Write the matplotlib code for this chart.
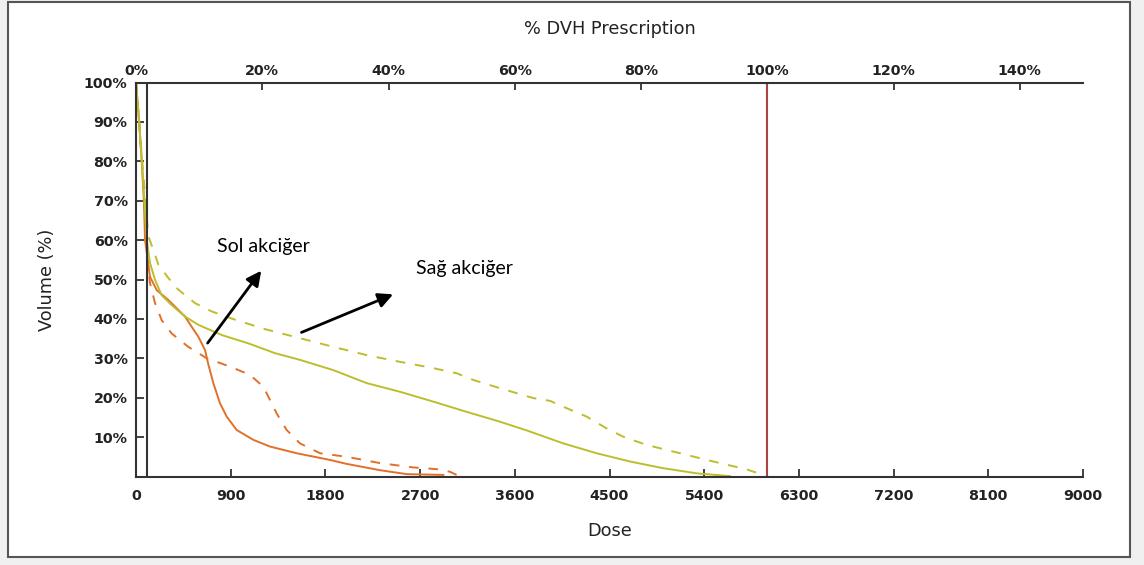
import numpy as np
import matplotlib.pyplot as plt
from matplotlib.patches import Rectangle

sol_dose = [0, 30, 55, 75, 86, 133, 197, 307, 466, 529, 592, 656, 687, 735, 798, 862, 957,
            1115, 1274, 1527, 1844, 2002, 2319, 2573, 2921]
sol_vol = [100, 90, 80, 70, 60, 50.7, 47.3, 44.8, 40.6, 38, 35.5, 32.1, 28.5, 23.7, 18.6, 15.2, 11.8,
           9.3, 7.6, 5.9, 4.2, 3.2, 1.6, 0.6, 0.4]

sol_d_dose = [0, 30, 55, 75, 102, 133, 181, 244, 339, 497, 672, 893, 1083, 1210, 1274, 1337,
              1432, 1559, 1749, 2002, 2319, 2636, 2889, 2984, 3079]
sol_d_vol = [100, 90, 80, 70, 56.6, 49.1, 44, 39.7, 36.3, 32.9, 30, 27.9, 25.8, 22.8, 19.4, 16,
             11.8, 8.4, 5.9, 5, 3.4, 2.3, 1.8, 1.2, 0]

sag_dose = [0, 30, 55, 80, 102, 133, 181, 244, 339, 466, 592, 815, 1067, 1321, 1559, 1875,
            2193, 2509, 2826, 3143, 3460, 3713, 4061, 4378, 4695, 5012, 5329, 5645]
sag_vol = [100, 90, 80, 70, 60, 54.2, 49.9, 46, 43.5, 40.6, 38.5, 35.9, 33.8, 31.3, 29.6, 27,
           23.7, 21.5, 19, 16.4, 13.9, 11.7, 8.4, 5.9, 3.8, 2.1, 0.8, 0.1]

sag_d_dose = [0, 30, 60, 90, 117, 164, 212, 307, 399, 561, 719, 941, 1226, 1559, 1875, 2193,
              2509, 2826, 3048, 3206, 3460, 3776, 3935, 4061, 4283, 4473, 4631, 4854, 5170,
              5487, 5804, 5962]
sag_d_vol = [100, 90, 80, 70, 61, 57.6, 53.8, 50.4, 47.5, 44, 41.9, 39.8, 37.4, 35.1, 32.9, 30.8,
             29.1, 27.5, 26.2, 24.5, 22.4, 19.9, 19.2, 17.7, 15.2, 12.2, 10.1, 8, 5.9,
             3.8, 1.8, 0.4]

x_ticks = [0, 900, 1800, 2700, 3600, 4500, 5400, 6300, 7200, 8100, 9000]
y_ticks = [10, 20, 30, 40, 50, 60, 70, 80, 90, 100]
pct_ticks = [0, 20, 40, 60, 80, 100, 120, 140]
prescription = 6000
marker_dose = 105

orange = '#E0702A'
olive = '#BDBD2E'

fig = plt.figure(figsize=(11.44, 5.65), dpi=100)
fig.patch.set_facecolor('#f0f0f0')
fig.add_artist(Rectangle((8 / 1144, 1 - 557 / 565), 1122 / 1144, 555 / 565,
                         transform=fig.transFigure, facecolor='white',
                         edgecolor='#555555', lw=1.5, zorder=0))

ax = fig.add_axes([136 / 1144, 1 - 476.5 / 565, 947 / 1144, 394 / 565])
ax.set_facecolor('none')

ax.plot(sol_dose, sol_vol, color=orange, lw=1.4)
ax.plot(sol_d_dose, sol_d_vol, color=orange, lw=1.4, ls=(0, (5, 5)))
ax.plot(sag_dose, sag_vol, color=olive, lw=1.4)
ax.plot(sag_d_dose, sag_d_vol, color=olive, lw=1.4, ls=(0, (5, 5)))
ax.axvline(prescription, color='#A84444', lw=1.5)
ax.axvline(marker_dose, color='#333333', lw=1.5)

ax.set_xlim(0, 9000)
ax.set_ylim(0, 100)
ax.set_xticks(x_ticks)
ax.set_yticks(y_ticks)
ax.set_yticklabels([f'{v}%' for v in y_ticks])
tick_font = dict(family='DejaVu Sans', weight='bold', size=10.3)
for lab in ax.get_xticklabels() + ax.get_yticklabels():
    lab.set_fontproperties(tick_font)
    lab.set_color('#222222')
ax.tick_params(direction='in', length=6, width=1.3, color='#333333', pad=9)
ax.tick_params(axis='y', pad=6)
ax.spines['right'].set_visible(False)
for s in ['left', 'bottom', 'top']:
    ax.spines[s].set_linewidth(1.5)
    ax.spines[s].set_color('#333333')
ax.set_xlabel('Dose', fontsize=12.8, color='#222222', labelpad=14)
ax.set_ylabel('Volume (%)', fontsize=12.8, color='#222222', labelpad=20)

top = ax.secondary_xaxis('top', functions=(lambda d: d / prescription * 100,
                                           lambda p: p * prescription / 100))
top.set_xticks(pct_ticks)
top.set_xticklabels([f'{p}%' for p in pct_ticks])
for lab in top.get_xticklabels():
    lab.set_fontproperties(tick_font)
    lab.set_color('#222222')
top.tick_params(direction='in', length=6, width=1.3, color='#333333', pad=3)
top.spines['top'].set_visible(False)
top.set_xlabel('% DVH Prescription', fontsize=12.8, color='#222222', labelpad=22)

ax.text(769, 58.4, 'Sol akciğer', family='Lato', fontsize=14, va='center')
ax.text(2658, 52.8, 'Sağ akciğer', family='Lato', fontsize=14, va='center')
ax.annotate('', xy=(1206, 52.8), xytext=(665, 33.3),
            arrowprops=dict(arrowstyle='-|>', color='black', lw=2, mutation_scale=22))
ax.annotate('', xy=(2468, 46.5), xytext=(1548, 36.3),
            arrowprops=dict(arrowstyle='-|>', color='black', lw=2, mutation_scale=22))

fig.savefig('out.png', dpi=100, facecolor=fig.get_facecolor())
